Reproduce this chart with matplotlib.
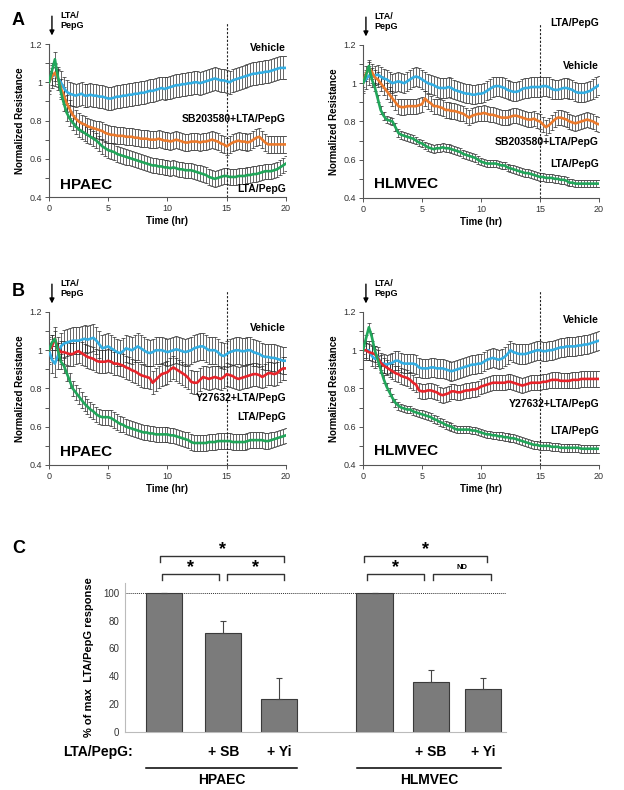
import numpy as np
import matplotlib
matplotlib.use("Agg")
import matplotlib.pyplot as plt

plt.rcParams['font.family'] = ['Liberation Sans', 'DejaVu Sans']

# time grid, one reading every 15 min
time_hr = [i * 0.25 for i in range(81)]

# ---- Panel A, HPAEC (SB203580) ----
hpaec_sb_vehicle = [
    1.00, 1.03, 1.04, 1.02, 1.00, 0.97, 0.95, 0.94,
    0.935, 0.93, 0.935, 0.94, 0.93, 0.93, 0.935, 0.93,
    0.93, 0.925, 0.925, 0.92, 0.915, 0.915, 0.92, 0.925,
    0.925, 0.93, 0.93, 0.935, 0.935, 0.94, 0.94, 0.945,
    0.945, 0.95, 0.955, 0.955, 0.96, 0.965, 0.97, 0.965,
    0.97, 0.975, 0.98, 0.985, 0.985, 0.99, 0.99, 0.995,
    0.995, 1.0, 1.0, 0.995, 1.0, 1.005, 1.01, 1.015,
    1.02, 1.015, 1.01, 1.01, 1.005, 1.0, 1.01, 1.015,
    1.02, 1.025, 1.03, 1.035, 1.04, 1.045, 1.045, 1.05,
    1.05, 1.055, 1.055, 1.06, 1.065, 1.07, 1.075, 1.075,
    1.075]
hpaec_sb_treated = [
    1.00, 1.03, 1.05, 1.02, 0.97, 0.93, 0.89, 0.86,
    0.83, 0.81, 0.795, 0.785, 0.78, 0.77, 0.765, 0.76,
    0.755, 0.75, 0.745, 0.735, 0.73, 0.725, 0.725, 0.72,
    0.72, 0.72, 0.715, 0.715, 0.715, 0.71, 0.71, 0.705,
    0.705, 0.705, 0.70, 0.70, 0.70, 0.705, 0.70, 0.695,
    0.695, 0.69, 0.695, 0.70, 0.695, 0.69, 0.685, 0.685,
    0.69, 0.69, 0.69, 0.685, 0.69, 0.69, 0.695, 0.70,
    0.695, 0.69, 0.68, 0.675, 0.665, 0.675, 0.685, 0.69,
    0.695, 0.69, 0.69, 0.685, 0.69, 0.70, 0.71, 0.715,
    0.70, 0.685, 0.675, 0.675, 0.675, 0.675, 0.675, 0.675,
    0.675]
hpaec_sb_lta = [
    1.00, 1.06, 1.12, 1.03, 0.95, 0.89, 0.84, 0.81,
    0.79, 0.77, 0.755, 0.745, 0.735, 0.725, 0.715, 0.705,
    0.695, 0.68, 0.665, 0.655, 0.645, 0.64, 0.635, 0.625,
    0.62, 0.615, 0.61, 0.605, 0.60, 0.595, 0.59, 0.585,
    0.58, 0.575, 0.57, 0.565, 0.565, 0.56, 0.56, 0.555,
    0.555, 0.55, 0.555, 0.55, 0.545, 0.545, 0.54, 0.54,
    0.54, 0.535, 0.53, 0.525, 0.52, 0.515, 0.505, 0.50,
    0.495, 0.50, 0.505, 0.51, 0.51, 0.505, 0.505, 0.505,
    0.51, 0.51, 0.51, 0.515, 0.515, 0.52, 0.52, 0.525,
    0.53, 0.535, 0.535, 0.535, 0.54, 0.545, 0.555, 0.565,
    0.575]

# ---- Panel A, HLMVEC (SB203580) ----
hlmvec_sb_vehicle = [
    1.00, 1.02, 1.04, 1.03, 1.04, 1.045, 1.035, 1.025,
    1.02, 1.01, 1.0, 1.005, 1.01, 1.005, 1.0, 1.01,
    1.02, 1.03, 1.035, 1.03, 1.02, 1.01, 1.0, 0.995,
    0.99, 0.98, 0.975, 0.975, 0.975, 0.98, 0.975, 0.965,
    0.96, 0.955, 0.95, 0.945, 0.945, 0.94, 0.94, 0.945,
    0.945, 0.95, 0.96, 0.97, 0.98, 0.985, 0.985, 0.98,
    0.975, 0.965, 0.96, 0.955, 0.955, 0.96, 0.97, 0.975,
    0.975, 0.98, 0.98, 0.98, 0.98, 0.985, 0.985, 0.98,
    0.97, 0.965, 0.965, 0.97, 0.975, 0.975, 0.97, 0.965,
    0.955, 0.95, 0.95, 0.95, 0.955, 0.96, 0.97, 0.98,
    0.99]
hlmvec_sb_treated = [
    1.00, 1.05, 1.08, 1.06, 1.03, 1.02, 1.00, 0.98,
    0.96, 0.94, 0.92, 0.90, 0.88, 0.875, 0.875, 0.88,
    0.88, 0.88, 0.88, 0.885, 0.89, 0.92, 0.905, 0.895,
    0.88, 0.88, 0.875, 0.87, 0.86, 0.86, 0.855, 0.855,
    0.85, 0.845, 0.84, 0.83, 0.82, 0.83, 0.835, 0.84,
    0.84, 0.845, 0.84, 0.835, 0.835, 0.83, 0.825, 0.82,
    0.82, 0.82, 0.825, 0.83, 0.83, 0.825, 0.82, 0.815,
    0.81, 0.81, 0.815, 0.805, 0.80, 0.785, 0.77, 0.78,
    0.795, 0.81, 0.82, 0.82, 0.815, 0.81, 0.80, 0.795,
    0.79, 0.795, 0.80, 0.805, 0.81, 0.805, 0.80, 0.79,
    0.785]
hlmvec_sb_lta = [
    1.00, 1.04, 1.09, 1.02, 0.98, 0.92, 0.86, 0.83,
    0.81, 0.805, 0.80, 0.77, 0.74, 0.73, 0.725, 0.72,
    0.715, 0.71, 0.70, 0.69, 0.685, 0.675, 0.665, 0.66,
    0.655, 0.66, 0.66, 0.665, 0.66, 0.66, 0.655, 0.65,
    0.645, 0.64, 0.63, 0.625, 0.62, 0.615, 0.61, 0.60,
    0.59, 0.585, 0.58, 0.58, 0.58, 0.58, 0.575, 0.57,
    0.57, 0.56, 0.555, 0.55, 0.545, 0.54, 0.535, 0.53,
    0.53, 0.525, 0.52, 0.515, 0.51, 0.51, 0.505, 0.505,
    0.505, 0.50, 0.50, 0.495, 0.495, 0.49, 0.48, 0.48,
    0.475, 0.475, 0.475, 0.475, 0.475, 0.475, 0.475, 0.475,
    0.475]

# ---- Panel B, HPAEC (Y27632) ----
hpaec_y_vehicle = [
    1.00, 0.95, 0.93, 0.97, 1.02, 1.035, 1.04, 1.045,
    1.05, 1.05, 1.05, 1.055, 1.06, 1.055, 1.06, 1.065,
    1.05, 1.03, 1.01, 1.015, 1.02, 1.01, 1.0, 0.99,
    0.985, 0.995, 1.01, 1.005, 1.0, 1.01, 1.02, 1.01,
    1.0, 0.99, 0.985, 0.99, 1.0, 1.0, 1.0, 0.995,
    0.99, 0.995, 1.0, 1.005, 1.0, 0.995, 0.99, 0.995,
    1.0, 1.01, 1.015, 1.02, 1.02, 1.01, 1.0, 1.0,
    1.0, 0.99, 0.975, 0.97, 0.98, 0.99, 0.995, 1.0,
    1.0, 0.995, 0.995, 1.0, 1.0, 0.99, 0.985, 0.98,
    0.97, 0.965, 0.965, 0.96, 0.96, 0.955, 0.95, 0.945,
    0.945]
hpaec_y_treated = [
    1.00, 1.02, 1.06, 1.01, 0.99, 0.99, 0.985, 0.98,
    0.98, 0.99, 0.995, 0.985, 0.975, 0.965, 0.96, 0.955,
    0.945, 0.94, 0.94, 0.94, 0.945, 0.94, 0.93, 0.93,
    0.925, 0.92, 0.91, 0.905, 0.895, 0.89, 0.88, 0.87,
    0.865, 0.86, 0.855, 0.83, 0.845, 0.86, 0.875, 0.88,
    0.885, 0.90, 0.91, 0.90, 0.89, 0.88, 0.87, 0.855,
    0.835, 0.83, 0.83, 0.845, 0.86, 0.855, 0.85, 0.855,
    0.86, 0.855, 0.85, 0.86, 0.875, 0.87, 0.865, 0.855,
    0.85, 0.855, 0.86, 0.865, 0.87, 0.875, 0.875, 0.87,
    0.86, 0.87, 0.88, 0.88, 0.875, 0.88, 0.895, 0.905,
    0.905]
hpaec_y_lta = [
    1.00, 1.04, 1.06, 1.0, 0.94, 0.92, 0.88, 0.84,
    0.80, 0.78, 0.76, 0.74, 0.72, 0.705, 0.69, 0.68,
    0.665, 0.655, 0.65, 0.65, 0.65, 0.645, 0.635, 0.625,
    0.615, 0.61, 0.60, 0.595, 0.59, 0.585, 0.58, 0.575,
    0.57, 0.57, 0.565, 0.565, 0.56, 0.56, 0.56, 0.56,
    0.56, 0.555, 0.555, 0.55, 0.545, 0.54, 0.535, 0.53,
    0.52, 0.515, 0.515, 0.515, 0.515, 0.515, 0.52, 0.52,
    0.52, 0.525, 0.525, 0.525, 0.525, 0.525, 0.52, 0.52,
    0.52, 0.52, 0.52, 0.525, 0.53, 0.53, 0.53, 0.53,
    0.53, 0.525, 0.525, 0.53, 0.535, 0.54, 0.545, 0.55,
    0.555]

# ---- Panel B, HLMVEC (Y27632) ----
hlmvec_y_vehicle = [
    1.00, 1.00, 1.00, 0.97, 0.955, 0.965, 0.935, 0.93,
    0.925, 0.93, 0.935, 0.945, 0.945, 0.935, 0.93, 0.93,
    0.93, 0.93, 0.925, 0.91, 0.905, 0.905, 0.905, 0.91,
    0.91, 0.905, 0.905, 0.905, 0.90, 0.895, 0.89, 0.895,
    0.90, 0.905, 0.91, 0.915, 0.92, 0.925, 0.925, 0.93,
    0.93, 0.94, 0.95, 0.955, 0.96, 0.955, 0.95, 0.955,
    0.965, 0.98, 1.0, 0.99, 0.985, 0.98, 0.98, 0.98,
    0.985, 0.99, 0.995, 1.0, 1.0, 0.995, 0.995, 1.0,
    1.0, 1.005, 1.01, 1.015, 1.015, 1.02, 1.02, 1.02,
    1.02, 1.025, 1.025, 1.03, 1.03, 1.035, 1.04, 1.045,
    1.05]
hlmvec_y_treated = [
    1.00, 1.00, 0.99, 0.985, 0.98, 0.96, 0.935, 0.92,
    0.91, 0.90, 0.89, 0.88, 0.875, 0.865, 0.86, 0.855,
    0.845, 0.83, 0.82, 0.79, 0.785, 0.785, 0.79, 0.79,
    0.785, 0.78, 0.77, 0.765, 0.77, 0.775, 0.785, 0.785,
    0.78, 0.78, 0.785, 0.79, 0.79, 0.795, 0.795, 0.80,
    0.81, 0.815, 0.82, 0.825, 0.83, 0.83, 0.83, 0.83,
    0.83, 0.835, 0.835, 0.83, 0.825, 0.82, 0.815, 0.82,
    0.825, 0.83, 0.83, 0.83, 0.83, 0.835, 0.835, 0.84,
    0.845, 0.845, 0.845, 0.84, 0.84, 0.84, 0.84, 0.845,
    0.845, 0.845, 0.85, 0.85, 0.85, 0.85, 0.85, 0.85,
    0.85]
hlmvec_y_lta = [
    1.00, 1.06, 1.12, 1.07, 1.0, 0.95, 0.90, 0.85,
    0.81, 0.78, 0.75, 0.725, 0.71, 0.70, 0.695, 0.69,
    0.69, 0.68, 0.675, 0.67, 0.665, 0.66, 0.655, 0.65,
    0.64, 0.635, 0.625, 0.62, 0.61, 0.605, 0.60, 0.59,
    0.585, 0.585, 0.585, 0.585, 0.585, 0.58, 0.58, 0.575,
    0.57, 0.565, 0.56, 0.56, 0.555, 0.555, 0.55, 0.55,
    0.545, 0.545, 0.54, 0.54, 0.535, 0.53, 0.525, 0.52,
    0.515, 0.51, 0.505, 0.505, 0.50, 0.50, 0.50, 0.50,
    0.495, 0.495, 0.495, 0.49, 0.49, 0.49, 0.49, 0.49,
    0.49, 0.49, 0.485, 0.485, 0.485, 0.485, 0.485, 0.485,
    0.485]

# SEM (one side)
sem_hpaec_sb = [0.06, 0.045, 0.04]
sem_hlmvec_sb = [0.05, 0.04, 0.02]
sem_hpaec_y = [0.07, 0.06, 0.04]
sem_hlmvec_y = [0.05, 0.04, 0.02]

# ---- Panel C ----
bar_labels = ["", "+ SB", "+ Yi"]
hpaec_pct = [100, 71, 24]
hpaec_err = [0, 9, 15]
hlmvec_pct = [100, 36, 31]
hlmvec_err = [0, 8.5, 8]

BLUE = "#33aee3"
ORANGE = "#ec7a2c"
GREEN = "#21a65a"
RED = "#e8242b"
AX = "#555555"

fig = plt.figure(figsize=(6.24, 7.9), dpi=100)


def ts_panel(rect, cell, series, colors, sems, labels, label_y, cell_y, top_extra=None):
    ax = fig.add_axes(rect)
    t = np.array(time_hr)
    for s, e in zip(series, sems):
        ax.errorbar(t, s, yerr=e, fmt='none', ecolor='#2a2a2a', elinewidth=0.5,
                    capsize=1.3, capthick=0.5, zorder=2)
    for s, c in zip(series, colors):
        ax.plot(t, s, color=c, lw=1.9, zorder=3)
    ax.set_xlim(0, 20)
    ax.set_ylim(0.4, 1.2)
    ax.set_xticks([0, 5, 10, 15, 20])
    ax.set_yticks([0.4, 0.6, 0.8, 1.0, 1.2])
    ax.set_yticklabels(['0.4', '0.6', '0.8', '1', '1.2'])
    ax.set_yticks([0.5, 0.7, 0.9, 1.1], minor=True)
    ax.tick_params(which='both', direction='out', length=3, width=0.7, colors=AX,
                   labelsize=6.5, labelcolor='#333333', pad=2)
    for sp in ['top', 'right']:
        ax.spines[sp].set_visible(False)
    for sp in ['left', 'bottom']:
        ax.spines[sp].set_color(AX)
        ax.spines[sp].set_linewidth(0.8)
    ax.set_xlabel('Time (hr)', fontsize=7, fontweight='bold', labelpad=2)
    ax.set_ylabel('Normalized Resistance', fontsize=7, fontweight='bold', labelpad=3)
    # 15 hr marker
    ax.plot([15, 15], [0.4, 1.31], ls=(0, (2, 1.5)), color='#222222', lw=0.8,
            clip_on=False, zorder=1)
    # stimulus arrow
    ax.annotate('', xy=(0.25, 1.23), xytext=(0.25, 1.36), annotation_clip=False,
                arrowprops=dict(arrowstyle='-|>', color='black', lw=1.0,
                                mutation_scale=7))
    ax.text(1.0, 1.37, 'LTA/\nPepG', fontsize=6.5, fontweight='bold', ha='left',
            va='top', linespacing=1.1)
    ax.text(0.9, cell_y, cell, fontsize=11, fontweight='bold', ha='left', va='center')
    for lab, y in zip(labels, label_y):
        ax.text(20, y, lab, fontsize=7.5, fontweight='bold', ha='right', va='center')
    if top_extra:
        ax.text(20, 1.315, top_extra, fontsize=7.5, fontweight='bold', ha='right',
                va='center')
    return ax


ts_panel([0.0785, 0.7506, 0.3798, 0.1937], 'HPAEC',
         [hpaec_sb_vehicle, hpaec_sb_treated, hpaec_sb_lta],
         [BLUE, ORANGE, GREEN], sem_hpaec_sb,
         ['Vehicle', 'SB203580+LTA/PepG', 'LTA/PepG'], [1.18, 0.81, 0.44], 0.465)
ts_panel([0.5817, 0.7494, 0.3782, 0.1937], 'HLMVEC',
         [hlmvec_sb_vehicle, hlmvec_sb_treated, hlmvec_sb_lta],
         [BLUE, ORANGE, GREEN], sem_hlmvec_sb,
         ['Vehicle', 'SB203580+LTA/PepG', 'LTA/PepG'], [1.09, 0.695, 0.58], 0.475,
         top_extra='LTA/PepG')
ts_panel([0.0785, 0.4114, 0.3798, 0.1937], 'HPAEC',
         [hpaec_y_vehicle, hpaec_y_treated, hpaec_y_lta],
         [BLUE, RED, GREEN], sem_hpaec_y,
         ['Vehicle', 'Y27632+LTA/PepG', 'LTA/PepG'], [1.115, 0.75, 0.65], 0.47)
ts_panel([0.5817, 0.4114, 0.3782, 0.1937], 'HLMVEC',
         [hlmvec_y_vehicle, hlmvec_y_treated, hlmvec_y_lta],
         [BLUE, RED, GREEN], sem_hlmvec_y,
         ['Vehicle', 'Y27632+LTA/PepG', 'LTA/PepG'], [1.16, 0.72, 0.58], 0.473)

fig.text(0.019, 0.985, 'A', fontsize=13, fontweight='bold', ha='left', va='top')
fig.text(0.019, 0.642, 'B', fontsize=13, fontweight='bold', ha='left', va='top')
fig.text(0.019, 0.317, 'C', fontsize=13, fontweight='bold', ha='left', va='top')

# ---- Panel C bar chart ----
axc = fig.add_axes([0.2003, 0.0734, 0.611, 0.1886])
pos_hpaec = [0.0, 1.03, 2.0]
pos_hlmvec = [3.66, 4.64, 5.55]
for pos, vals, errs in [(pos_hpaec, hpaec_pct, hpaec_err),
                        (pos_hlmvec, hlmvec_pct, hlmvec_err)]:
    axc.bar(pos, vals, width=0.63, color='#7b7b7b', edgecolor='#3a3a3a',
            linewidth=0.8, zorder=2)
    axc.errorbar(pos, vals, yerr=[np.zeros(3), errs], fmt='none', ecolor='#444444',
                 elinewidth=0.8, capsize=2.5, capthick=0.8, zorder=3)
axc.set_xlim(-0.68, 5.95)
axc.set_ylim(0, 107)
axc.axhline(100, color='#333333', lw=0.7, ls=(0, (1, 1)), zorder=1)
axc.set_yticks([0, 20, 40, 60, 80, 100])
axc.set_xticks([])
axc.tick_params(axis='y', direction='out', length=0, labelsize=7,
                labelcolor='#333333', pad=4)
for sp in ['top', 'right']:
    axc.spines[sp].set_visible(False)
axc.spines['left'].set_color('#bbbbbb')
axc.spines['bottom'].set_color('#bbbbbb')
axc.set_ylabel('% of max  LTA/PepG response', fontsize=8, fontweight='bold',
               labelpad=7)


def bracket(ax, x0, x1, y, drop, txt, ty, size):
    ax.plot([x0, x0, x1, x1], [y - drop, y, y, y - drop], color='#333333', lw=1.0,
            clip_on=False)
    ax.text((x0 + x1) / 2, ty, txt, ha='center', va='center', fontsize=size,
            fontweight='bold')


bracket(axc, -0.07, 2.09, 126.6, 4.5, '*', 131, 13)
bracket(axc, -0.04, 0.96, 113.7, 4.5, '*', 118, 13)
bracket(axc, 1.10, 2.09, 113.7, 4.5, '*', 118, 13)
bracket(axc, 3.48, 5.62, 126.6, 4.5, '*', 131, 13)
bracket(axc, 3.53, 4.52, 113.7, 4.5, '*', 118, 13)
bracket(axc, 4.68, 5.68, 113.7, 4.5, 'ND', 118.5, 5.5)

axc.text(-0.54, -14.4, 'LTA/PepG:', ha='right', va='center', fontsize=10,
         fontweight='bold', clip_on=False)
for pos in (pos_hpaec, pos_hlmvec):
    for p, lab in zip(pos, bar_labels):
        axc.text(p, -14.4, lab, ha='center', va='center', fontsize=10,
                 fontweight='bold', clip_on=False)
for pos, name in [(pos_hpaec, 'HPAEC'), (pos_hlmvec, 'HLMVEC')]:
    axc.plot([pos[0] - 0.31, pos[2] + 0.31], [-25.9, -25.9], color='black', lw=1.1,
             clip_on=False)
    axc.text((pos[0] + pos[2]) / 2, -34.5, name, ha='center', va='center',
             fontsize=10, fontweight='bold', clip_on=False)

fig.savefig('out.png', dpi=100)
